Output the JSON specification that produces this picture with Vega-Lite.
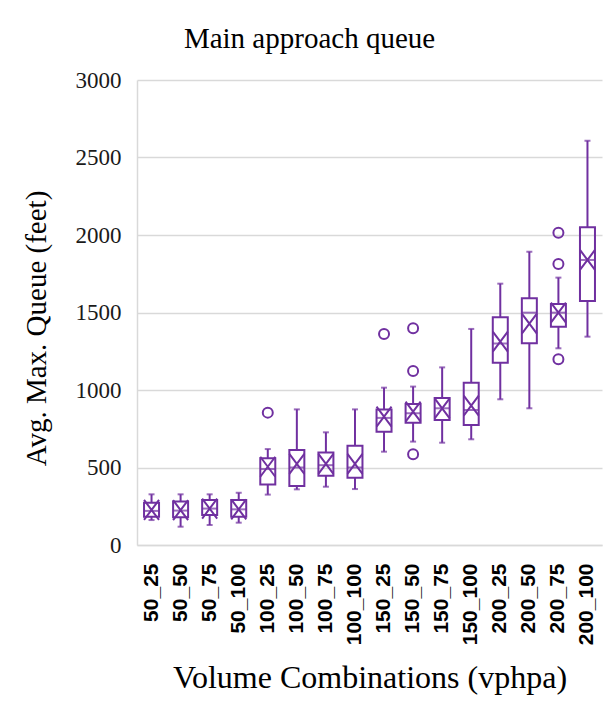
{
  "$schema": "https://vega.github.io/schema/vega-lite/v6.json",
  "autosize": {"type": "none"},
  "padding": {"left": 137, "top": 80, "right": 11, "bottom": 168},
  "width": 465,
  "height": 465,
  "background": "white",
  "title": {
    "text": "Main approach queue",
    "font": "Liberation Serif",
    "fontSize": 29,
    "fontWeight": "normal",
    "color": "#000000",
    "anchor": "middle",
    "frame": "group",
    "baseline": "alphabetic",
    "dx": -60,
    "dy": 42,
    "offset": 34
  },
  "datasets": {
    "boxes": [
      {"combo": "50_25", "lower": 161, "q1": 183, "median": 220, "q3": 273, "upper": 327, "mean": 226},
      {"combo": "50_50", "lower": 118, "q1": 179, "median": 222, "q3": 280, "upper": 327, "mean": 225},
      {"combo": "50_75", "lower": 129, "q1": 194, "median": 235, "q3": 290, "upper": 327, "mean": 235},
      {"combo": "50_100", "lower": 144, "q1": 183, "median": 230, "q3": 290, "upper": 337, "mean": 230},
      {"combo": "100_25", "lower": 325, "q1": 391, "median": 490, "q3": 559, "upper": 619, "mean": 505},
      {"combo": "100_50", "lower": 359, "q1": 381, "median": 500, "q3": 613, "upper": 875, "mean": 523},
      {"combo": "100_75", "lower": 376, "q1": 447, "median": 515, "q3": 596, "upper": 727, "mean": 523},
      {"combo": "100_100", "lower": 361, "q1": 434, "median": 500, "q3": 641, "upper": 875, "mean": 523},
      {"combo": "150_25", "lower": 602, "q1": 731, "median": 820, "q3": 875, "upper": 1015, "mean": 828},
      {"combo": "150_50", "lower": 667, "q1": 789, "median": 850, "q3": 910, "upper": 1022, "mean": 860},
      {"combo": "150_75", "lower": 660, "q1": 806, "median": 882, "q3": 948, "upper": 1146, "mean": 882},
      {"combo": "150_100", "lower": 682, "q1": 774, "median": 871, "q3": 1047, "upper": 1394, "mean": 899},
      {"combo": "200_25", "lower": 940, "q1": 1176, "median": 1300, "q3": 1469, "upper": 1686, "mean": 1312},
      {"combo": "200_50", "lower": 882, "q1": 1301, "median": 1499, "q3": 1592, "upper": 1892, "mean": 1428},
      {"combo": "200_75", "lower": 1269, "q1": 1408, "median": 1499, "q3": 1555, "upper": 1725, "mean": 1499},
      {"combo": "200_100", "lower": 1344, "q1": 1574, "median": 1839, "q3": 2050, "upper": 2608, "mean": 1839}
    ],
    "outliers": [
      {"combo": "100_25", "value": 854},
      {"combo": "150_25", "value": 1361},
      {"combo": "150_50", "value": 1398},
      {"combo": "150_50", "value": 1123},
      {"combo": "150_50", "value": 585},
      {"combo": "200_75", "value": 2015},
      {"combo": "200_75", "value": 1813},
      {"combo": "200_75", "value": 1198}
    ]
  },
  "encoding": {
    "x": {
      "field": "combo",
      "type": "nominal",
      "sort": ["50_25", "50_50", "50_75", "50_100", "100_25", "100_50", "100_75", "100_100", "150_25", "150_50", "150_75", "150_100", "200_25", "200_50", "200_75", "200_100"],
      "scale": {"paddingInner": 0, "paddingOuter": 0},
      "axis": {
        "title": "Volume Combinations (vphpa)",
        "titleFont": "Liberation Serif",
        "titleFontSize": 32,
        "titleFontWeight": "normal",
        "titleColor": "#000000",
        "titleBaseline": "alphabetic",
        "titleY": 142,
        "labelAngle": -90,
        "labelFont": "Liberation Sans",
        "labelFontSize": 21,
        "labelFontWeight": "bold",
        "labelColor": "#000000",
        "labelPadding": 18,
        "ticks": false,
        "domainColor": "#d9d9d9",
        "domainWidth": 1.5,
        "grid": false
      }
    }
  },
  "layer": [
    {
      "data": {"name": "boxes"},
      "mark": {"type": "rule", "color": "#7030A0", "strokeWidth": 2},
      "encoding": {
        "y": {
          "field": "lower",
          "type": "quantitative",
          "scale": {"domain": [0, 3000], "nice": false},
          "axis": {
            "title": "Avg. Max. Queue (feet)",
            "titleFont": "Liberation Serif",
            "titleFontSize": 29,
            "titleFontWeight": "normal",
            "titleColor": "#000000",
            "titleAngle": -90,
            "titleAlign": "center",
            "titleBaseline": "alphabetic",
            "titleX": -92,
            "titleY": 248,
            "values": [0, 500, 1000, 1500, 2000, 2500, 3000],
            "format": "d",
            "labelFont": "Liberation Serif",
            "labelFontSize": 23,
            "labelColor": "#1a1a1a",
            "labelPadding": 16,
            "ticks": false,
            "domainColor": "#d9d9d9",
            "domainWidth": 1.5,
            "grid": true,
            "gridColor": "#d9d9d9",
            "gridWidth": 1.5
          }
        },
        "y2": {"field": "q1"}
      }
    },
    {
      "data": {"name": "boxes"},
      "mark": {"type": "rule", "color": "#7030A0", "strokeWidth": 2},
      "encoding": {
        "y": {"field": "q3", "type": "quantitative"},
        "y2": {"field": "upper"}
      }
    },
    {
      "data": {"name": "boxes"},
      "mark": {"type": "tick", "color": "#7030A0", "size": 6, "thickness": 2},
      "encoding": {"y": {"field": "lower", "type": "quantitative"}}
    },
    {
      "data": {"name": "boxes"},
      "mark": {"type": "tick", "color": "#7030A0", "size": 6, "thickness": 2},
      "encoding": {"y": {"field": "upper", "type": "quantitative"}}
    },
    {
      "data": {"name": "boxes"},
      "mark": {"type": "bar", "filled": false, "color": "#7030A0", "strokeWidth": 2, "size": 15},
      "encoding": {
        "y": {"field": "q1", "type": "quantitative"},
        "y2": {"field": "q3"}
      }
    },
    {
      "data": {"name": "boxes"},
      "mark": {"type": "tick", "color": "#7030A0", "size": 15, "thickness": 2},
      "encoding": {"y": {"field": "median", "type": "quantitative"}}
    },
    {
      "data": {"name": "boxes"},
      "mark": {
        "type": "point",
        "shape": "M-0.75,-1L0.75,1M-0.75,1L0.75,-1",
        "size": 400,
        "filled": false,
        "color": "#7030A0",
        "strokeWidth": 2,
        "opacity": 1
      },
      "encoding": {"y": {"field": "mean", "type": "quantitative"}}
    },
    {
      "data": {"name": "outliers"},
      "mark": {
        "type": "point",
        "shape": "circle",
        "size": 100,
        "filled": false,
        "color": "#7030A0",
        "strokeWidth": 2,
        "opacity": 1
      },
      "encoding": {"y": {"field": "value", "type": "quantitative"}}
    }
  ],
  "config": {
    "view": {"stroke": null}
  }
}
